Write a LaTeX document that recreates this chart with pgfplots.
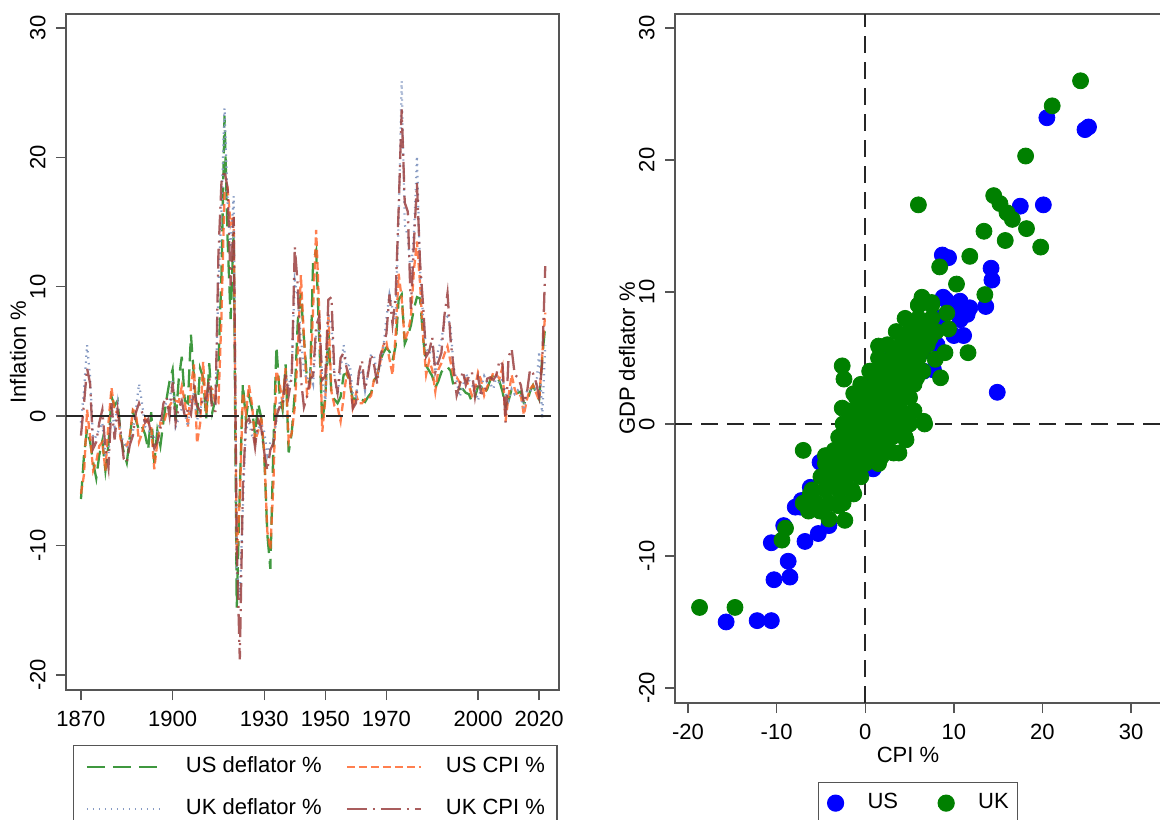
\documentclass[border=0pt]{standalone}
\usepackage{fontspec}
\setmainfont{Liberation Sans}
\usepackage{pgfplots}
\usepackage{pgfplotstable}
\pgfplotsset{compat=1.18}

\definecolor{usdefc}{RGB}{30,135,30}
\definecolor{uscpic}{RGB}{255,95,35}
\definecolor{ukdefc}{RGB}{135,155,195}
\definecolor{ukcpic}{RGB}{155,65,65}
\definecolor{sblue}{RGB}{0,0,255}
\definecolor{sgreen}{RGB}{0,128,0}
\definecolor{framec}{RGB}{85,85,85}

\pgfplotstableread{
year usdef uscpi ukdef ukcpi
1870 -6.4 -6.0 -0.5 -1.5
1871 -3.0 -4.5 2.0 1.0
1872 -1.0 0.5 5.5 3.7
1873 -2.0 -1.6 3.0 2.5
1874 -3.6 -4.2 -2.0 -2.5
1875 -4.8 -3.5 -1.5 -2.0
1876 -3.0 -2.3 -1.0 -0.5
1877 -1.9 -2.0 -0.5 0.5
1878 -4.2 -4.2 -3.0 -2.5
1879 -2.2 -0.5 -3.0 -4.0
1880 1.5 2.2 0.5 1.0
1881 0.8 0.4 -0.8 -1.8
1882 1.2 0.3 1.0 0.5
1883 -1.5 -1.8 -1.5 -1.2
1884 -2.8 -2.1 -2.0 -3.3
1885 -3.6 -2.3 -2.5 -3.6
1886 -1.6 -1.5 -2.0 -2.2
1887 0.3 0.5 -1.2 -1.5
1888 -0.3 0.3 0.5 0.3
1889 -1.1 -2.0 2.5 1.0
1890 -0.8 -1.3 1.0 0.3
1891 -1.4 -0.2 -0.8 -0.5
1892 -2.6 -0.5 -1.0 -0.2
1893 0.3 -0.8 -1.5 -1.5
1894 -3.6 -4.1 -1.8 -2.5
1895 -1.1 -2.0 -1.2 -2.0
1896 -2.3 -0.5 -0.5 -1.0
1897 -0.4 -0.6 0.8 1.0
1898 1.3 0.2 1.0 1.5
1899 2.7 0.8 1.2 0.0
1900 3.6 1.2 2.8 2.6
1901 -0.3 1.2 -0.8 -0.5
1902 2.8 1.1 -0.2 0.6
1903 4.6 2.3 0.6 1.2
1904 1.2 1.1 0.2 0.0
1905 1.0 -0.8 -0.8 0.5
1906 6.3 2.3 1.2 0.1
1907 3.0 4.0 1.8 2.2
1908 0.0 -2.1 -0.3 0.8
1909 3.7 -0.6 0.5 0.4
1910 3.0 4.2 1.3 1.5
1911 -0.2 0.2 1.0 1.3
1912 4.1 2.3 2.5 3.0
1913 0.3 2.1 1.2 0.4
1914 1.3 1.0 1.0 0.4
1915 3.9 1.0 10.0 12.5
1916 11.0 7.7 16.0 18.1
1917 23.2 17.4 23.8 19.0
1918 13.7 17.6 16.5 17.6
1919 7.5 14.8 13.0 10.1
1920 14.3 15.5 17.0 15.4
1921 -14.8 -10.8 -12.0 -10.0
1922 -5.7 -6.4 -13.9 -18.8
1923 2.5 1.8 -7.0 -5.5
1924 -0.3 0.2 -1.0 -0.5
1925 1.6 2.4 -0.5 -0.2
1926 0.6 0.9 -1.5 -0.8
1927 -1.5 -1.9 -1.8 -2.4
1928 1.0 -1.2 -1.0 -0.3
1929 -0.1 0.0 -0.6 -0.9
1930 -3.0 -2.7 -1.2 -2.8
1931 -9.1 -8.9 -3.0 -4.2
1932 -11.8 -10.3 -2.0 -2.6
1933 -2.3 -5.2 -1.8 -2.1
1934 5.4 3.5 -0.3 0.0
1935 1.8 2.6 1.0 0.7
1936 0.5 1.0 1.2 0.7
1937 4.0 3.7 3.0 3.4
1938 -2.8 -2.0 2.3 1.6
1939 -1.3 -1.3 3.5 3.0
1940 1.8 0.7 10.5 13.1
1941 7.4 5.1 9.2 10.0
1942 9.5 10.9 6.0 2.9
1943 6.0 6.1 3.5 0.7
1944 2.8 1.7 2.8 1.5
1945 2.6 2.3 3.4 2.9
1946 12.0 8.3 2.5 3.1
1947 12.8 14.4 6.3 7.0
1948 6.0 8.1 6.8 7.7
1949 -0.5 -1.2 2.8 2.8
1950 1.5 1.3 1.2 3.1
1951 6.6 7.9 7.8 9.0
1952 1.5 1.9 7.2 9.2
1953 1.3 0.8 3.0 3.1
1954 1.0 0.7 1.6 1.8
1955 1.5 -0.4 3.6 4.5
1956 3.2 1.5 5.5 4.9
1957 3.3 3.3 3.8 3.7
1958 2.6 2.8 4.0 3.0
1959 1.3 0.7 1.7 0.6
1960 1.4 1.7 1.5 1.0
1961 1.1 1.0 3.2 3.4
1962 1.3 1.0 3.6 4.3
1963 1.1 1.3 2.0 2.0
1964 1.5 1.3 3.5 3.3
1965 1.8 1.6 4.8 4.8
1966 2.8 2.9 4.6 3.9
1967 3.1 3.1 3.1 2.5
1968 4.3 4.2 3.8 4.7
1969 4.9 5.5 5.3 5.4
1970 5.3 5.7 7.6 6.4
1971 5.0 4.4 9.4 9.4
1972 4.3 3.2 8.3 7.1
1973 5.4 6.2 7.5 9.2
1974 9.0 11.0 15.1 16.0
1975 9.4 9.1 25.9 23.7
1976 5.6 5.8 14.8 16.5
1977 6.2 6.5 13.9 15.8
1978 7.0 7.6 10.8 8.3
1979 8.3 11.3 14.2 13.4
1980 9.2 13.5 20.1 18.0
1981 9.1 10.3 11.3 11.9
1982 6.1 6.2 7.6 8.6
1983 3.9 3.2 5.3 4.6
1984 3.5 4.3 4.8 5.0
1985 3.1 3.6 5.4 6.1
1986 2.2 1.9 3.4 3.4
1987 2.7 3.6 5.2 4.2
1988 3.4 4.1 5.9 4.9
1989 3.8 4.8 7.4 7.8
1990 3.8 5.4 7.7 9.5
1991 3.5 4.2 6.9 5.9
1992 2.3 3.0 3.8 3.7
1993 2.3 3.0 2.7 1.6
1994 2.1 2.6 1.5 2.4
1995 2.1 2.8 2.3 3.5
1996 1.8 2.9 3.3 2.4
1997 1.7 2.3 2.8 3.1
1998 1.1 1.6 2.4 3.4
1999 1.5 2.2 2.1 1.5
2000 2.3 3.4 1.2 3.0
2001 2.3 2.8 2.2 1.8
2002 1.7 1.6 3.1 1.7
2003 2.1 2.3 2.6 2.9
2004 2.8 2.7 2.5 3.0
2005 3.2 3.4 2.1 2.8
2006 3.1 3.2 3.1 3.2
2007 2.7 2.9 2.5 4.3
2008 1.9 3.8 2.9 4.0
2009 0.8 -0.4 1.8 -0.5
2010 1.2 1.6 1.2 4.6
2011 2.1 3.2 2.1 5.2
2012 1.9 2.1 1.7 3.2
2013 1.8 1.5 2.0 3.0
2014 1.9 1.6 1.7 2.4
2015 1.0 0.1 0.6 1.0
2016 1.0 1.3 2.0 1.8
2017 1.9 2.1 1.9 3.6
2018 2.4 2.4 2.2 3.3
2019 1.8 1.8 2.1 2.6
2020 1.3 1.2 5.0 1.5
2021 4.5 4.7 -0.2 4.1
2022 7.0 8.0 5.5 11.6
}\ts

\pgfplotstableread{
cpi def
25.2 22.5
24.8 22.3
20.5 23.2
17.5 16.5
20.1 16.6
14.2 11.8
14.3 10.9
13.6 8.9
14.9 2.4
8.7 12.8
9.4 12.6
8.8 9.6
10.7 9.3
11.0 8.7
11.5 8.3
10.7 7.9
11.8 8.8
11.1 6.7
10.0 6.7
9.6 9.0
7.7 4.1
6.6 4.0
4.3 6.5
3.1 5.4
0.0 2.9
0.0 -3.4
0.9 -3.4
-4.7 -2.8
-5.1 -2.9
-6.2 -4.8
-7.2 -5.8
-7.3 -6.3
-7.9 -6.3
-9.2 -7.7
-10.6 -9.0
-6.8 -8.9
-5.3 -8.3
-4.1 -7.7
-8.7 -10.4
-10.3 -11.8
-8.5 -11.6
-15.7 -15.0
-12.2 -14.9
-10.6 -14.9
-2.2 -4.8
-4.5 -4.0
-3.8 -3.0
-3.2 -3.5
-2.7 -2.0
-2.3 -3.0
-2.0 -1.2
-1.6 -1.8
-1.3 -0.5
-1.0 -1.5
-0.6 0.2
-0.5 -0.8
-0.2 0.5
0.0 -0.3
0.3 1.0
0.5 0.0
0.8 1.3
1.0 0.5
1.2 1.8
1.5 1.1
1.6 2.3
1.9 1.5
2.0 2.7
2.3 2.0
2.4 3.1
2.7 2.4
2.9 3.3
3.1 2.7
3.3 3.8
3.5 3.0
3.6 4.2
4.0 3.6
4.2 4.8
4.4 4.0
4.8 5.2
5.1 4.5
5.5 5.6
5.8 5.0
6.2 6.3
6.5 5.5
7.0 7.0
7.6 7.0
8.1 6.0
8.3 8.0
9.1 9.4
5.7 5.3
3.2 2.3
1.6 0.8
-0.4 -1.9
-1.2 -2.6
-3.0 -4.2
}\usscatter

\pgfplotstableread{
cpi def
24.3 26.0
21.1 24.1
18.1 20.3
6.0 16.6
14.5 17.3
15.2 16.7
16.0 16.0
16.6 15.5
18.2 14.8
13.4 14.6
15.8 13.9
19.8 13.4
11.8 12.7
8.4 11.9
10.3 10.6
13.5 9.8
6.4 9.6
6.0 9.0
7.5 9.2
9.2 8.4
9.4 7.2
11.6 5.4
9.0 5.4
7.9 4.9
8.5 3.5
1.5 5.9
-2.6 4.4
-2.4 3.4
0.6 4.0
-2.6 1.2
-1.3 2.3
6.6 0.2
6.7 0.0
4.6 -1.2
3.2 -2.2
3.8 -2.2
-7.0 -2.0
0.2 -2.4
-4.5 -2.4
-1.3 -5.3
-6.2 -5.3
-3.0 -6.2
-6.4 -6.6
-5.1 -6.6
-4.1 -7.2
-2.3 -7.3
-9.0 -7.9
-9.4 -8.8
-18.7 -13.9
-14.7 -13.9
-7.0 -6.0
-5.5 -6.0
-4.0 -6.0
-2.5 -6.0
-6.0 -5.0
-4.5 -5.0
-3.0 -5.0
-1.5 -5.0
-5.0 -4.0
-3.5 -4.0
-2.0 -4.0
-0.5 -4.0
-4.5 -3.0
-3.0 -3.0
-1.5 -3.0
0.0 -3.0
1.5 -3.0
-3.5 -2.0
-2.0 -2.0
-0.5 -2.0
1.0 -2.0
2.5 -2.0
-3.0 -1.0
-1.5 -1.0
0.0 -1.0
1.5 -1.0
3.0 -1.0
4.5 -1.0
-2.5 0.0
-1.0 0.0
0.5 0.0
2.0 0.0
3.5 0.0
5.0 0.0
-2.0 1.0
-0.5 1.0
1.0 1.0
2.5 1.0
4.0 1.0
5.5 1.0
-1.0 2.0
0.5 2.0
2.0 2.0
3.5 2.0
5.0 2.0
-0.5 3.0
1.0 3.0
2.5 3.0
4.0 3.0
5.5 3.0
0.5 4.0
2.0 4.0
3.5 4.0
5.0 4.0
6.5 4.0
1.5 5.0
3.0 5.0
4.5 5.0
6.0 5.0
2.5 6.0
4.0 6.0
5.5 6.0
7.0 6.0
3.5 7.0
5.0 7.0
6.5 7.0
8.0 7.0
4.5 8.0
6.0 8.0
7.5 8.0
6.0 9.0
7.5 9.0
-1.8 -1.6
-0.8 -0.4
0.4 0.6
1.2 1.6
2.8 2.4
3.2 3.6
4.4 4.6
1.6 -1.4
-1.2 -2.6
-2.4 -3.4
-4.2 -4.5
-2.7 -4.5
-3.7 -3.5
-2.2 -3.5
-0.7 -3.5
-2.7 -2.5
-1.2 -2.5
0.3 -2.5
1.8 -2.5
-2.2 -1.5
-0.7 -1.5
0.8 -1.5
2.3 -1.5
-1.7 -0.5
-0.2 -0.5
1.3 -0.5
2.8 -0.5
4.0 -0.5
-1.2 0.5
0.3 0.5
1.8 0.5
3.3 0.5
4.6 0.5
-0.7 1.5
0.8 1.5
2.3 1.5
3.8 1.5
0.3 2.5
1.8 2.5
3.3 2.5
4.6 2.5
1.3 3.5
2.8 3.5
4.3 3.5
5.8 3.5
2.3 4.5
3.8 4.5
5.3 4.5
3.3 5.5
4.8 5.5
6.3 5.5
4.3 6.5
5.8 6.5
7.3 6.5
5.3 7.5
6.8 7.5
}\ukscatter

\pgfplotsset{
  stata/.style={
    scale only axis,
    anchor=south west,
    axis line style={framec, line width=0.7pt},
    tick style={framec, line width=0.7pt},
    major tick length=5pt,
    tick align=outside,
    xtick pos=bottom, ytick pos=left,
    minor tick num=0,
    /pgf/number format/assume math mode=true,
    ticklabel style={font=\fontsize{11}{13}\selectfont, inner sep=0pt},
    xticklabel style={anchor=north},
    yticklabel style={rotate=90, anchor=south},
    xticklabel shift=5.3pt,
    yticklabel shift=5pt,
    label style={font=\fontsize{11}{13}\selectfont},
    legend cell align=left,
  },
  zeroline/.style={black!85, line width=0.75pt, dash pattern=on 8.5pt off 4.5pt, forget plot},
}

\begin{document}
\begin{tikzpicture}
\useasboundingbox (0,0) rectangle (580pt,409.5pt);
\clip (0,0) rectangle (580pt,409.5pt);

% ---------------- left panel ----------------
\begin{axis}[stata,
  at={(33pt,64.5pt)},
  width=246.5pt, height=338pt,
  xmin=1865.1, xmax=2026.5, ymin=-21.16, ymax=31.08,
  xtick={1870,1900,1930,1950,1970,2000,2020},
  ytick={-20,-10,0,10,20,30},
  /pgf/number format/1000 sep={},
  ylabel={Inflation \%},
  ylabel style={at={(axis description cs:-0.0974,0.5)}, anchor=center},
  legend columns=2,
  legend image code/.code={\draw[#1] (0pt,0pt) -- (37pt,0pt);},
  legend style={at={(axis description cs:0.0142,-0.0814)}, anchor=north west,
    draw=framec, line width=0.6pt, font=\fontsize{11}{13}\selectfont,
    inner xsep=6pt, inner ysep=5.5pt, row sep=10.5pt, column sep=0pt,
    nodes={inner sep=0pt, text height=8pt, text depth=2.5pt},
    /tikz/every odd column/.append style={column sep=12pt},
    /tikz/every even column/.append style={column sep=12pt}},
]
\addplot[usdefc, line width=1.15pt, draw opacity=0.85, dash pattern=on 9pt off 4pt] table[x=year, y=usdef] {\ts};
\addlegendentry{US deflator \%}
\addplot[uscpic, line width=1.15pt, draw opacity=0.8, dash pattern=on 4pt off 2pt] table[x=year, y=uscpi] {\ts};
\addlegendentry{US CPI \%}
\addplot[ukdefc, line width=1.1pt, dash pattern=on 0.7pt off 2.3pt] table[x=year, y=ukdef] {\ts};
\addlegendentry{UK deflator \%}
\addplot[ukcpic, line width=1.15pt, draw opacity=0.85, dash pattern=on 10pt off 3pt on 1pt off 3pt] table[x=year, y=ukcpi] {\ts};
\addlegendentry{UK CPI \%}
\addplot[zeroline] coordinates {(1865.1,0) (2026.5,0)};
\end{axis}

% ---------------- right panel ----------------
\begin{axis}[stata,
  at={(337.5pt,58pt)},
  width=250pt, height=344.5pt,
  xmin=-21.47, xmax=34.96, ymin=-21.14, ymax=31.06,
  xtick={-20,-10,0,10,20,30},
  ytick={-20,-10,0,10,20,30},
  xlabel={CPI \%},
  xlabel style={at={(axis description cs:0.466,-0.0755)}, anchor=center},
  ylabel={GDP deflator \%},
  ylabel style={at={(axis description cs:-0.096,0.5)}, anchor=center},
  legend columns=2,
  legend image code/.code={\draw[#1] plot coordinates {(0pt,0pt)};},
  legend style={at={(axis description cs:0.286,-0.1147)}, anchor=north west,
    draw=framec, line width=0.6pt, font=\fontsize{11}{13}\selectfont,
    inner xsep=4.5pt, inner ysep=5pt, column sep=0pt,
    nodes={inner sep=0pt, text height=8pt, text depth=2.5pt},
    /tikz/every odd column/.append style={column sep=12pt},
    /tikz/every even column/.append style={column sep=20pt}},
]
\addplot[zeroline] coordinates {(-21.47,0) (34.96,0)};
\addplot[zeroline] coordinates {(0,-21.14) (0,31.06)};
\addplot[only marks, mark=*, mark size=4pt, mark options={draw=sblue, fill=sblue}] table[x=cpi, y=def] {\usscatter};
\addlegendentry{US}
\addplot[only marks, mark=*, mark size=4pt, mark options={draw=sgreen, fill=sgreen}] table[x=cpi, y=def] {\ukscatter};
\addlegendentry{UK}
\end{axis}
\end{tikzpicture}
\end{document}
